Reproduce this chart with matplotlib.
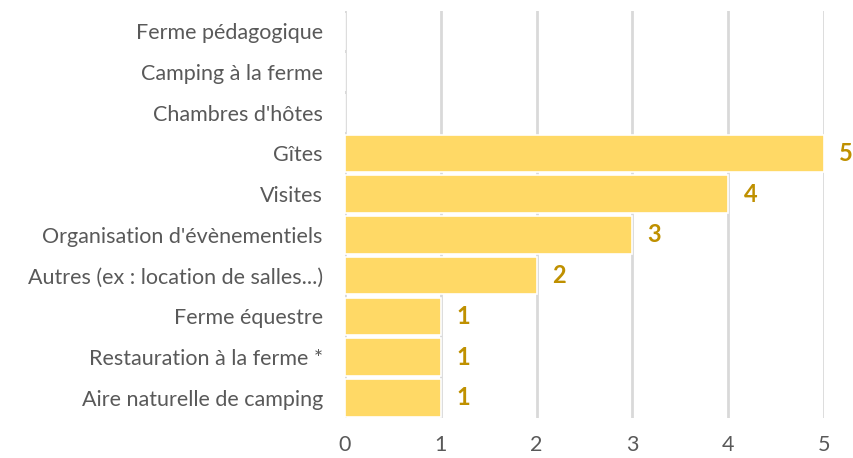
import matplotlib.pyplot as plt

categories = [
    "Ferme pédagogique",
    "Camping à la ferme",
    "Chambres d'hôtes",
    "Gîtes",
    "Visites",
    "Organisation d'évènementiels",
    "Autres (ex : location de salles...)",
    "Ferme équestre",
    "Restauration à la ferme *",
    "Aire naturelle de camping",
]
values = [0, 0, 0, 5, 4, 3, 2, 1, 1, 1]
xticks = [0, 1, 2, 3, 4, 5]

plt.rcParams['font.family'] = ['Lato', 'DejaVu Sans']

fig = plt.figure(figsize=(8.54, 4.58), dpi=100)
ax = fig.add_axes([0.404, 0.087, 0.561, 0.889])

pos = list(range(len(categories)))
ax.barh(pos, values, height=0.92, color="#FFD966", edgecolor="white", linewidth=1.2, zorder=3)

for y, v in zip(pos, values):
    if v > 0:
        ax.annotate(str(v), (v, y), xytext=(11, 0), textcoords="offset points",
                    va="center", ha="left", fontsize=17, fontweight="bold",
                    color="#BF9000", annotation_clip=False)

ax.set_xlim(0, 5)
ax.set_ylim(len(categories) - 0.5, -0.5)
ax.set_xticks(xticks)
ax.set_yticks(pos)
ax.set_yticklabels(categories)
ax.tick_params(axis="both", length=0, labelsize=15.5, colors="#595959")
ax.tick_params(axis="y", pad=16)
ax.tick_params(axis="x", pad=12)
ax.grid(axis="x", color="#D9D9D9", linewidth=2, zorder=0)
for s in ax.spines.values():
    s.set_visible(False)

fig.savefig("out.png", dpi=100)
